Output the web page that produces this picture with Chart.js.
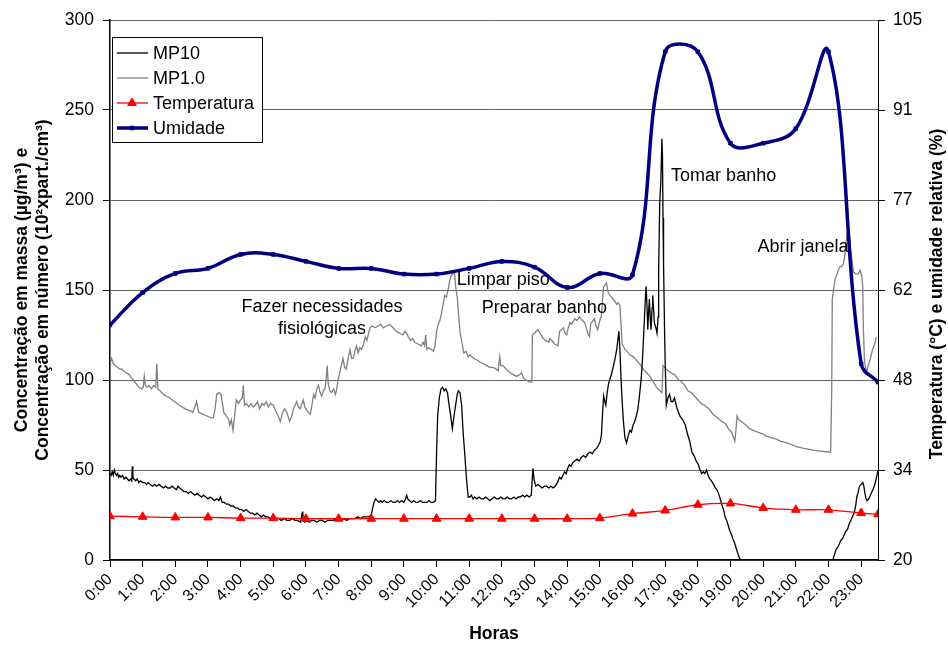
<!DOCTYPE html>
<html lang="pt">
<head>
<meta charset="utf-8">
<title>MP10, MP1.0, temperatura e umidade</title>
<script src="https://cdn.jsdelivr.net/npm/chart.js@4.4.1/dist/chart.umd.min.js"></script>
<style>
  html, body { margin: 0; padding: 0; background: #fff; }
  #wrap { width: 948px; height: 645px; }
</style>
</head>
<body>
<div id="wrap"><canvas id="myChart" width="948" height="645"></canvas></div>
<script>
const hourLabels = ["0:00", "1:00", "2:00", "3:00", "4:00", "5:00", "6:00", "7:00", "8:00", "9:00", "10:00", "11:00",
    "12:00", "13:00", "14:00", "15:00", "16:00", "17:00", "18:00", "19:00", "20:00", "21:00", "22:00", "23:00"];
const rightTickLabels = ["20", "34", "48", "62", "77", "91", "105"];

// last reading of the day, in minutes
const endMinute = 1411;

// [minute, value] readings
const mp10 = [
    [0, 48], [2, 47], [4, 49], [6, 47], [8, 50], [10, 48], [12, 47], [14, 48], [16, 46], [18, 47], [20, 46], [23, 47],
    [26, 45], [29, 46], [32, 45], [35, 44], [38, 45], [40, 44], [41, 52], [42, 46], [44, 45], [47, 44], [50, 45], [53, 43],
    [56, 44], [60, 43], [64, 43], [67, 42], [70, 43], [74, 42], [78, 41], [82, 42], [86, 41], [90, 42], [94, 41], [98, 40],
    [102, 41], [106, 40], [110, 40], [114, 41], [118, 40], [122, 39], [125, 41], [128, 40], [132, 39], [136, 38], [140, 38],
    [144, 37], [148, 38], [152, 37], [156, 36], [160, 37], [164, 36], [168, 35], [172, 36], [176, 35], [180, 34], [184, 35],
    [188, 34], [192, 33], [196, 34], [200, 33], [203, 35], [206, 32], [210, 32], [214, 31], [218, 31], [222, 30], [226, 30],
    [230, 29], [234, 29], [238, 28], [242, 28], [246, 27], [250, 28], [254, 27], [258, 26], [262, 26], [266, 25], [270, 26],
    [274, 25], [278, 24], [282, 25], [286, 24], [290, 24], [295, 23], [300, 24], [305, 23], [310, 23], [315, 22], [320, 23],
    [325, 22], [330, 22], [335, 23], [340, 22], [345, 22], [350, 21], [353, 26], [354, 27], [355, 22], [358, 21], [362, 22],
    [366, 21], [370, 22], [375, 22], [380, 21], [385, 22], [390, 22], [395, 21], [400, 22], [405, 22], [410, 22], [415, 23],
    [420, 22], [425, 22], [430, 23], [435, 22], [440, 23], [445, 23], [450, 23], [455, 24], [460, 23], [465, 24], [470, 24],
    [475, 24], [480, 25], [482, 28], [485, 32], [488, 34], [491, 33], [494, 32], [497, 33], [500, 32], [504, 33], [508, 32],
    [512, 32], [516, 33], [520, 32], [524, 32], [528, 33], [532, 32], [536, 33], [540, 32], [543, 34], [545, 36], [547, 34],
    [550, 33], [554, 32], [558, 33], [562, 32], [566, 32], [570, 33], [574, 32], [578, 32], [582, 32], [586, 33], [590, 32],
    [594, 32], [598, 33], [600, 60], [602, 80], [605, 90], [608, 95], [611, 96], [614, 94], [617, 95], [620, 93], [623, 86],
    [626, 80], [629, 73], [632, 80], [635, 86], [638, 92], [640, 94], [643, 93], [646, 86], [649, 70], [652, 58], [655, 45],
    [658, 35], [661, 35], [664, 36], [667, 34], [670, 35], [674, 34], [678, 35], [682, 34], [686, 34], [690, 35], [694, 34],
    [698, 33], [702, 34], [706, 35], [710, 34], [714, 34], [718, 35], [722, 34], [726, 34], [730, 35], [734, 34], [738, 34],
    [742, 35], [746, 34], [750, 35], [754, 35], [758, 36], [762, 35], [766, 36], [770, 35], [774, 36], [777, 51], [779, 45],
    [782, 41], [786, 42], [790, 41], [794, 40], [798, 41], [802, 41], [806, 40], [810, 41], [814, 40], [818, 41], [822, 43],
    [826, 46], [829, 45], [832, 47], [835, 49], [838, 48], [841, 51], [844, 53], [847, 52], [850, 54], [854, 55], [858, 56],
    [862, 55], [866, 57], [870, 58], [874, 57], [878, 59], [882, 60], [886, 59], [890, 61], [894, 62], [898, 64], [901, 66],
    [903, 70], [905, 82], [907, 91], [909, 88], [911, 86], [913, 92], [916, 98], [919, 101], [922, 104], [925, 108],
    [928, 112], [931, 117], [933, 122], [935, 127], [937, 116], [939, 100], [941, 88], [943, 78], [946, 68], [949, 65],
    [952, 69], [955, 72], [958, 71], [961, 75], [964, 77], [967, 80], [970, 84], [973, 92], [976, 101], [978, 110],
    [980, 122], [982, 135], [984, 148], [985, 152], [987, 138], [988, 128], [990, 140], [991, 145], [993, 132], [994, 128],
    [996, 140], [997, 147], [999, 138], [1000, 132], [1003, 129], [1005, 126], [1007, 135], [1008, 160], [1010, 199],
    [1012, 210], [1014, 234], [1015, 225], [1016, 190], [1017, 165], [1019, 125], [1020, 110], [1022, 86], [1025, 90],
    [1028, 92], [1031, 88], [1034, 88], [1037, 90], [1042, 84], [1047, 80], [1052, 78], [1057, 75], [1061, 70], [1065, 66],
    [1069, 60], [1073, 58], [1077, 55], [1081, 53], [1084, 50], [1087, 48], [1090, 49], [1093, 48], [1096, 50], [1099, 47],
    [1102, 45], [1105, 44], [1109, 42], [1112, 40], [1115, 39], [1118, 37], [1121, 34], [1125, 30], [1128, 27], [1130, 24],
    [1133, 22], [1135, 20], [1139, 16], [1142, 14], [1144, 12], [1148, 9], [1151, 6], [1154, 3], [1158, 0], [1160, -4],
    [1240, null],
    [1325, -4], [1328, 0], [1331, 3], [1334, 6], [1337, 7], [1340, 9], [1343, 11], [1346, 12], [1349, 14], [1352, 16],
    [1355, 17], [1358, 20], [1361, 22], [1364, 24], [1367, 26], [1370, 30], [1372, 35], [1374, 37], [1377, 41], [1380, 42],
    [1383, 43], [1385, 41], [1387, 37], [1389, 34], [1391, 33], [1394, 34], [1397, 36], [1400, 38], [1403, 40], [1406, 43],
    [1409, 47], [1411, 50]
];

const mp1 = [
    [0, 111], [1, 110], [3, 112], [6, 109], [10, 108], [14, 107], [18, 106], [22, 106], [25, 105], [30, 104], [35, 103],
    [40, 101], [43, 100], [48, 98], [53, 96], [58, 95], [61, 96], [63, 102], [65, 97], [68, 96], [72, 97], [76, 95], [80, 97],
    [84, 96], [86, 109], [88, 95], [92, 94], [98, 92], [104, 91], [110, 90], [118, 88], [128, 86], [138, 84], [147, 83],
    [152, 82], [157, 86], [159, 88], [161, 85], [163, 82], [170, 81], [178, 80], [186, 79], [190, 79], [193, 84], [196, 92],
    [200, 93], [204, 92], [207, 86], [209, 82], [214, 80], [218, 78], [220, 75], [223, 78], [226, 72], [229, 80], [232, 89],
    [236, 87], [240, 89], [243, 90], [245, 97], [247, 86], [251, 87], [255, 85], [259, 87], [263, 85], [267, 86], [271, 88],
    [275, 84], [279, 87], [283, 86], [287, 88], [291, 85], [295, 87], [300, 86], [304, 83], [309, 80], [313, 77], [317, 82],
    [321, 84], [325, 82], [330, 77], [334, 80], [337, 84], [340, 86], [343, 88], [346, 85], [349, 84], [352, 86], [355, 89],
    [358, 85], [362, 83], [364, 82], [368, 81], [371, 86], [374, 92], [377, 90], [380, 95], [383, 97], [386, 93], [389, 91],
    [392, 94], [395, 95], [397, 100], [399, 108], [401, 98], [404, 94], [407, 93], [411, 95], [414, 92], [416, 94],
    [419, 100], [422, 104], [425, 108], [428, 112], [431, 107], [434, 106], [437, 111], [441, 117], [444, 112], [447, 112],
    [450, 116], [453, 119], [456, 115], [459, 118], [462, 117], [466, 120], [469, 124], [472, 122], [475, 126], [478, 129],
    [482, 130], [487, 129], [492, 130], [497, 131], [502, 129], [508, 130], [514, 131], [520, 129], [526, 127], [532, 126],
    [538, 125], [542, 127], [545, 126], [548, 124], [552, 122], [556, 123], [560, 121], [566, 120], [572, 119], [575, 121],
    [578, 119], [580, 125], [582, 117], [585, 118], [590, 117], [594, 116], [597, 119], [600, 127], [603, 131], [606, 133],
    [609, 137], [612, 142], [615, 147], [618, 146], [621, 150], [624, 155], [627, 158], [630, 159], [633, 160], [635, 152],
    [638, 146], [641, 134], [643, 127], [647, 120], [650, 115], [654, 116], [658, 113], [662, 114], [668, 112], [675, 111],
    [680, 110], [686, 109], [692, 108], [698, 107], [704, 107], [710, 106], [713, 105], [716, 113], [718, 108], [722, 108],
    [728, 106], [735, 104], [741, 103], [747, 102], [753, 103], [756, 104], [760, 101], [765, 100], [770, 99], [775, 99],
    [776, 125], [780, 126], [786, 128], [790, 126], [796, 123], [800, 122], [806, 121], [808, 123], [812, 122], [817, 120],
    [823, 119], [826, 127], [830, 128], [833, 129], [836, 126], [839, 125], [842, 129], [845, 132], [848, 131], [854, 134],
    [858, 133], [863, 135], [868, 133], [872, 132], [876, 128], [879, 125], [881, 124], [883, 131], [885, 132], [890, 134],
    [893, 130], [896, 128], [899, 132], [903, 136], [905, 145], [907, 152], [910, 153], [912, 154], [915, 149], [918, 147],
    [922, 146], [924, 145], [927, 144], [931, 142], [934, 143], [937, 141], [939, 130], [941, 120], [943, 119], [946, 117],
    [950, 116], [955, 114], [961, 113], [967, 111], [973, 109], [980, 106], [986, 104], [992, 102], [998, 99], [1004, 96],
    [1010, 94], [1014, 93], [1016, 108], [1019, 107], [1022, 106], [1030, 104], [1037, 103], [1045, 100], [1050, 99],
    [1056, 97], [1062, 94], [1068, 93], [1074, 91], [1080, 89], [1086, 87], [1092, 86], [1100, 84], [1108, 81], [1116, 79],
    [1124, 77], [1130, 76], [1136, 73], [1142, 71], [1148, 66], [1150, 72], [1152, 80], [1155, 78], [1160, 77], [1168, 75],
    [1175, 73], [1182, 72], [1190, 71], [1200, 70], [1204, 69], [1215, 68], [1226, 67], [1231, 66], [1245, 65], [1261, 63],
    [1275, 62], [1292, 61], [1305, 60.5], [1319, 60], [1324, 60], [1326, 95], [1327, 145], [1329, 149], [1332, 156],
    [1335, 158], [1338, 161], [1341, 163], [1344, 163], [1347, 164], [1350, 169], [1352, 176], [1356, 185], [1358, 184],
    [1360, 175], [1363, 167], [1366, 160], [1370, 159], [1375, 159], [1378, 161], [1381, 158], [1383, 152], [1384, 130],
    [1386, 112], [1389, 104], [1393, 108], [1397, 112], [1401, 117], [1405, 120], [1408, 124]
];

// hourly readings (right axis), plus the last one at endMinute
const readingMinutes = [0, 60, 120, 180, 240, 300, 360, 420, 480, 540, 600, 660, 720, 780, 840, 900, 960, 1020, 1080,
    1140, 1200, 1260, 1320, 1380, endMinute];
const temperatura = [26.9, 26.8, 26.7, 26.7, 26.6, 26.6, 26.5, 26.5, 26.5, 26.5, 26.5, 26.5, 26.5, 26.5, 26.5, 26.6,
    27.3, 27.8, 28.7, 28.9, 28.2, 27.9, 27.9, 27.4, 27.2];
const umidade = [57.0, 62.1, 65.1, 65.9, 68.1, 68.1, 67.0, 65.9, 65.9, 65.0, 65.0, 65.9, 67.0, 66.1, 62.9, 65.1, 64.9,
    100.0, 100.0, 85.6, 85.6, 87.9, 100.0, 50.9, 48.0];

const notes = [
    { text: ["Fazer necessidades", "fisiológicas"], hour: 6.49, value: 140.6 },
    { text: ["Limpar piso"], hour: 12.04, value: 155.6 },
    { text: ["Preparar banho"], hour: 13.3, value: 139.8 },
    { text: ["Tomar banho"], hour: 18.79, value: 213.3 },
    { text: ["Abrir janela"], hour: 21.22, value: 173.7 }
];

const FONT = 'Arial, "Liberation Sans", sans-serif';
Chart.defaults.font.family = FONT;
Chart.defaults.color = "#000";

const toPoints = (pairs) => pairs.map(([m, v]) => ({ x: m / 60, y: v }));
const hourly = (values) => values.map((v, i) => ({ x: readingMinutes[i] / 60, y: v }));

// text labels placed on the left scale
const notesPlugin = {
    id: "notes",
    afterDatasetsDraw(chart) {
        const ctx = chart.ctx;
        const xs = chart.scales.x, ys = chart.scales.y;
        ctx.save();
        ctx.font = "18px " + FONT;
        ctx.fillStyle = "#000";
        ctx.textAlign = "center";
        ctx.textBaseline = "middle";
        notes.forEach(n => {
            const x = xs.getPixelForValue(n.hour);
            const y = ys.getPixelForValue(n.value);
            n.text.forEach((line, i) => ctx.fillText(line, x, y + i * 22));
        });
        ctx.restore();
    }
};

// boxed legend in the top-left corner and the right axis title
const legendPlugin = {
    id: "boxLegend",
    afterDraw(chart) {
        const ctx = chart.ctx;
        const area = chart.chartArea;
        const x0 = area.left + 2, y0 = area.top + 17;
        ctx.save();
        ctx.fillStyle = "#fff";
        ctx.fillRect(x0, y0, 150, 105);
        ctx.strokeStyle = "#000";
        ctx.lineWidth = 1;
        ctx.strokeRect(x0 + 0.5, y0 + 0.5, 150, 105);
        ctx.font = "18px " + FONT;
        ctx.textBaseline = "middle";
        chart.data.datasets.forEach((ds, i) => {
            const y = y0 + 16 + i * 25;
            ctx.strokeStyle = ds.borderColor;
            ctx.lineWidth = ds.borderWidth;
            ctx.beginPath();
            ctx.moveTo(x0 + 5, y);
            ctx.lineTo(x0 + 36, y);
            ctx.stroke();
            if (ds.pointRadius > 0) {
                ctx.fillStyle = ds.pointBackgroundColor;
                ctx.lineWidth = 1;
                Chart.helpers.drawPoint(ctx, { pointStyle: ds.pointStyle, radius: ds.pointRadius, borderWidth: 1 }, x0 + 20, y);
            }
            ctx.fillStyle = "#000";
            ctx.fillText(ds.label, x0 + 41, y + 1);
        });

        const right = chart.scales.y1;
        ctx.font = "bold 17.5px " + FONT;
        ctx.textAlign = "center";
        ctx.translate(right.right - 11, (area.top + area.bottom) / 2 + 4);
        ctx.rotate(-Math.PI / 2);
        ctx.fillText("Temperatura (°C) e umidade relativa (%)", 0, 0);
        ctx.restore();
    }
};

const ctx = document.getElementById("myChart").getContext("2d");
const myChart = new Chart(ctx, {
    type: "line",
    data: {
        datasets: [
            {
                label: "MP10",
                data: toPoints(mp10),
                borderColor: "#000",
                borderWidth: 1.3,
                pointRadius: 0,
                tension: 0,
                yAxisID: "y",
                order: 2
            },
            {
                label: "MP1.0",
                data: toPoints(mp1),
                borderColor: "#808080",
                borderWidth: 1.3,
                pointRadius: 0,
                tension: 0,
                yAxisID: "y",
                order: 3
            },
            {
                label: "Temperatura",
                data: hourly(temperatura),
                borderColor: "#ff0000",
                borderWidth: 1.3,
                pointStyle: "triangle",
                pointRadius: 5,
                pointBackgroundColor: "#ff0000",
                pointBorderColor: "#ff0000",
                pointBorderWidth: 1,
                tension: 0.4,
                yAxisID: "y1",
                order: 1
            },
            {
                label: "Umidade",
                data: hourly(umidade),
                borderColor: "#000080",
                borderWidth: 3.5,
                pointStyle: "rect",
                pointRadius: 2.5,
                pointBackgroundColor: "#000080",
                pointBorderColor: "#000080",
                pointBorderWidth: 1,
                tension: 0.4,
                yAxisID: "y1",
                order: 0
            }
        ]
    },
    options: {
        responsive: false,
        animation: false,
        spanGaps: false,
        layout: { padding: { top: 20, left: 0, right: 0, bottom: 0 } },
        plugins: {
            legend: { display: false },
            tooltip: { enabled: false }
        },
        scales: {
            x: {
                type: "linear",
                min: 0,
                max: endMinute / 60,
                afterBuildTicks: (s) => { s.ticks = hourLabels.map((_, i) => ({ value: i })); },
                afterFit: (s) => { s.height = 85; },
                ticks: {
                    callback: (v, i) => hourLabels[i],
                    autoSkip: false,
                    minRotation: 45,
                    maxRotation: 45,
                    padding: 3,
                    font: { size: 16 }
                },
                grid: { drawOnChartArea: false, tickLength: 7, color: "#000" },
                border: { color: "#000", width: 1.5 },
                title: {
                    display: true,
                    text: "Horas",
                    font: { size: 17.5, weight: "bold" },
                    padding: { top: 0, bottom: 0 }
                }
            },
            y: {
                position: "left",
                min: 0,
                max: 300,
                afterFit: (s) => { s.width = 110; },
                ticks: { stepSize: 50, padding: 9, font: { size: 17.5 } },
                grid: { color: "#666", tickColor: "#000", tickLength: 7 },
                border: { color: "#000", width: 1.5 },
                title: {
                    display: true,
                    text: ["Concentração em massa (µg/m³) e", "Concentração em número (10²xpart./cm³)"],
                    font: { size: 17.5, weight: "bold", lineHeight: 1.22 },
                    padding: { top: 11, bottom: 0 }
                }
            },
            y1: {
                position: "right",
                min: 20,
                max: 105,
                afterBuildTicks: (s) => { s.ticks = rightTickLabels.map((_, i) => ({ value: 20 + i * 85 / 6 })); },
                afterFit: (s) => { s.width = 70; },
                ticks: {
                    callback: (v, i) => rightTickLabels[i],
                    padding: 8,
                    font: { size: 17.5 }
                },
                grid: { drawOnChartArea: false, color: "#000", tickLength: 7 },
                border: { color: "#000", width: 1 }
            }
        }
    },
    plugins: [notesPlugin, legendPlugin]
});
</script>
</body>
</html>
